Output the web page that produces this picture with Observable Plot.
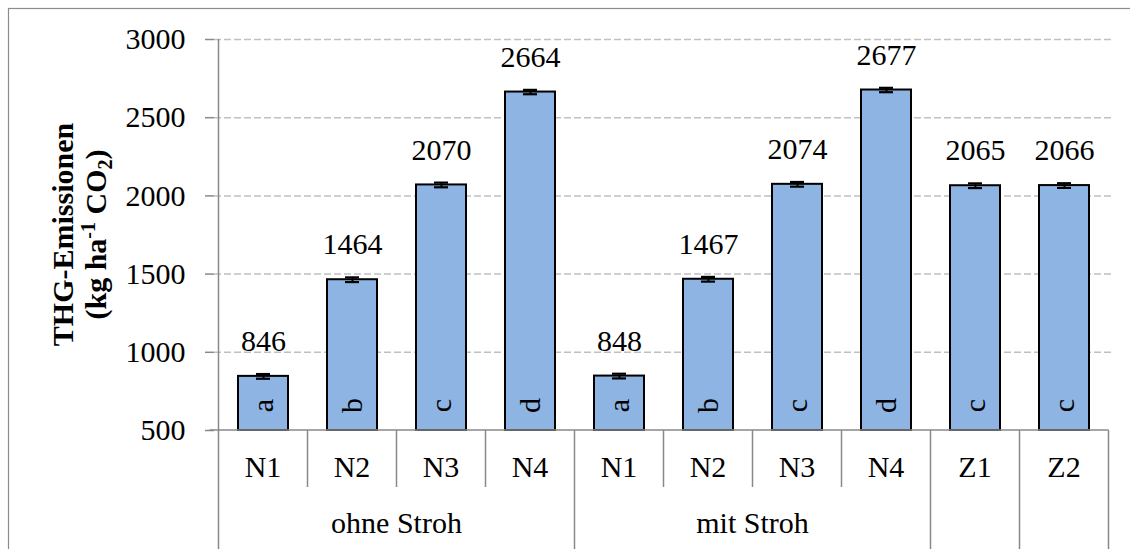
<!DOCTYPE html>
<html><head><meta charset="utf-8">
<script src="https://cdn.jsdelivr.net/npm/d3@7"></script>
<script src="https://cdn.jsdelivr.net/npm/@observablehq/plot@0.6"></script>
<style>html,body{margin:0;padding:0;background:#fff} svg{display:block}</style>
</head><body><div id="chart"></div>
<script>
const categories = ["N1","N2","N3","N4","N1","N2","N3","N4","Z1","Z2"];
const groupIds = ["g1","g1","g1","g1","g2","g2","g2","g2","g3","g4"];
const groupNames = ["ohne Stroh","mit Stroh","",""];
const groupKeys = ["g1","g2","g3","g4"];
const values = [846,1464,2070,2664,848,1467,2074,2677,2065,2066];
const errors = [15,15,15,14,15,15,15,14,15,15];
const letters = ["a","b","c","d","a","b","c","d","c","c"];
const yTicks = [500,1000,1500,2000,2500,3000];
const yTitle1 = "THG-Emissionen";

const data = categories.map((c,i)=>({key: groupIds[i]+"-"+c, cat:c, group:groupIds[i], value:values[i], err:errors[i], letter:letters[i]}));
const font = "Liberation Serif, Times New Roman, serif";
const axisGray = "#898989";

const plot = Plot.plot({
  width:1130, height:549, marginLeft:214, marginRight:18, marginTop:39, marginBottom:119,
  style:{fontFamily:font, fontSize:"30px", color:"#000", background:"#fff", overflow:"visible"},
  x:{domain:data.map(d=>d.key), paddingInner:0.44, paddingOuter:0.22, axis:null},
  y:{domain:[500,3000], axis:null},
  marks:[
    Plot.gridY(yTicks.filter(t=>t>500), {stroke:"#c0c0c0", strokeOpacity:1, strokeDasharray:"7,3", strokeWidth:1.5}),
    Plot.barY(data, {x:"key", y1:500, y2:"value", fill:"#8eb4e3", stroke:"#000", strokeWidth:2}),
    Plot.ruleX(data, {x:"key", y1:d=>d.value-d.err, y2:d=>d.value+d.err, stroke:"#000", strokeWidth:2}),
    Plot.tickY(data, {x:"key", y:d=>d.value-d.err, stroke:"#000", strokeWidth:2.2, insetLeft:18, insetRight:18}),
    Plot.tickY(data, {x:"key", y:d=>d.value+d.err, stroke:"#000", strokeWidth:2.2, insetLeft:18, insetRight:18}),
    Plot.text(data, {x:"key", y:"value", text:d=>String(d.value), dy:-35, fontSize:30, fontFamily:font}),
    Plot.text(data, {x:"key", y:500, text:"letter", rotate:-90, dy:-25, fontSize:30, fontFamily:font}),
    Plot.axisY({ticks:yTicks, label:null, tickSize:9, tickPadding:20, tickFormat:d=>String(d), fontSize:30, fontFamily:font, stroke:axisGray, strokeWidth:1.5, strokeOpacity:1})
  ]
});

const svg = d3.select(plot);
const xs = plot.scale("x");
const ys = plot.scale("y");
const bw = xs.bandwidth, step = xs.step;
const start = k => xs.apply(k);
const center = k => start(k) + bw/2;
const left = k => center(k) - step/2;
const right = k => center(k) + step/2;
const yBase = ys.apply(500);
const yTop = ys.apply(3000);
const L = svg.append("g").attr("stroke", axisGray).attr("stroke-width", 1.5).attr("fill","none");

// outer border
svg.append("rect").attr("x",8.5).attr("y",8.5).attr("width",1130).attr("height",560)
  .attr("fill","none").attr("stroke","#8c8c8c").attr("stroke-width",1.2);

// y axis line
const x0 = left(data[0].key), x1 = right(data[data.length-1].key);
L.append("line").attr("x1",x0).attr("x2",x0).attr("y1",yTop).attr("y2",549);
// baseline
L.append("line").attr("x1",x0-9).attr("x2",x1).attr("y1",yBase).attr("y2",yBase);
// separators
data.forEach((d,i)=>{
  const xr = right(d.key);
  const next = data[i+1];
  const isGroupEnd = !next || next.group !== d.group;
  L.append("line").attr("x1",xr).attr("x2",xr).attr("y1",yBase).attr("y2", isGroupEnd ? 549 : yBase+57);
});
// category labels
const T = svg.append("g").attr("font-family",font).attr("font-size",30).attr("fill","#000").attr("text-anchor","middle");
data.forEach(d=>{
  T.append("text").attr("x",center(d.key)).attr("y",yBase+47).text(d.cat);
});
groupKeys.forEach((g,gi)=>{
  const ks = data.filter(d=>d.group===g).map(d=>d.key);
  const cx = (left(ks[0]) + right(ks[ks.length-1]))/2;
  T.append("text").attr("x",cx).attr("y",yBase+103).text(groupNames[gi]);
});
// y title
const cy = (yBase+yTop)/2;
T.append("text").attr("font-weight","bold").attr("transform",`translate(73,${cy}) rotate(-90)`).text(yTitle1);
const t2 = T.append("text").attr("font-weight","bold").attr("transform",`translate(106,${cy}) rotate(-90)`);
t2.append("tspan").text("(kg ha");
t2.append("tspan").attr("font-size",20).attr("dy",-11).text("-1");
t2.append("tspan").attr("dy",11).text(" CO");
t2.append("tspan").attr("font-size",20).attr("dy",6).text("2");
t2.append("tspan").attr("dy",-6).text(")");

document.getElementById("chart").appendChild(plot);
</script>
</body></html>
